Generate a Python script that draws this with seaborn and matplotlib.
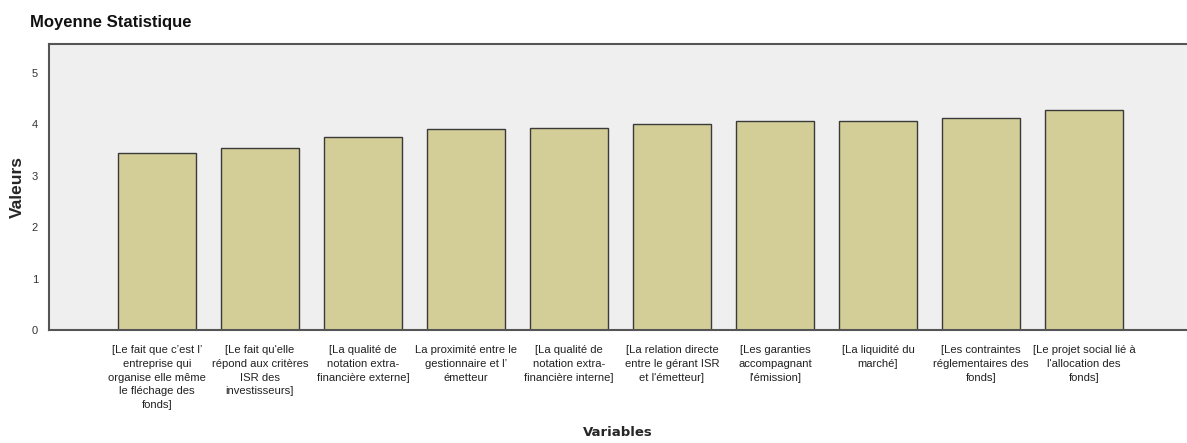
import matplotlib
matplotlib.use("Agg")
import matplotlib.pyplot as plt
import seaborn as sns
import pandas as pd

# data
variables = [
    "[Le fait que c’est l’\nentreprise qui\norganise elle même\nle fléchage des\nfonds]",
    "[Le fait qu'elle\nrépond aux critères\nISR des\ninvestisseurs]",
    "[La qualité de\nnotation extra-\nfinancière externe]",
    "La proximité entre le\ngestionnaire et l’\németteur",
    "[La qualité de\nnotation extra-\nfinancière interne]",
    "[La relation directe\nentre le gérant ISR\net l'émetteur]",
    "[Les garanties\naccompagnant\nl'émission]",
    "[La liquidité du\nmarché]",
    "[Les contraintes\nréglementaires des\nfonds]",
    "[Le projet social lié à\nl'allocation des\nfonds]",
]
moyennes = [3.44, 3.53, 3.75, 3.90, 3.93, 4.00, 4.06, 4.06, 4.12, 4.28]
y_ticks = [0, 1, 2, 3, 4, 5]

df = pd.DataFrame({"variable": variables, "valeur": moyennes})

sns.set_style("white")
plt.rcParams["font.family"] = ["Liberation Sans", "DejaVu Sans"]

fig = plt.figure(figsize=(11.87, 4.43), dpi=100)
ax = fig.add_axes([0.0415, 0.255, 0.9585, 0.6455])

sns.barplot(data=df, x="variable", y="valeur", color="#d3ce97",
            saturation=1, width=0.75, edgecolor="#3a3a3a", linewidth=1.0, ax=ax)

ax.set_facecolor("#efefef")
ax.set_xlim(-1.045, 10.0)
ax.set_ylim(0, 5.56)
ax.set_yticks(y_ticks)
ax.set_yticklabels([str(t) for t in y_ticks], fontsize=8, color="#333333")
ax.set_xticks(range(len(variables)))
ax.set_xticklabels(variables, fontsize=8.1, color="#222222", linespacing=1.45)
ax.tick_params(axis="both", direction="out", length=5, width=1, color="#555555", pad=3)
ax.tick_params(axis="x", length=6, pad=5)

for side in ["left", "top", "bottom"]:
    ax.spines[side].set_visible(True)
    ax.spines[side].set_color("#555555")
    ax.spines[side].set_linewidth(1.5)
ax.spines["right"].set_visible(False)

ax.set_ylabel("Valeurs", fontsize=12.5, fontweight="bold", labelpad=5)
ax.set_xlabel("Variables", fontsize=9.5, fontweight="bold",
              family=["DejaVu Sans"])
ax.xaxis.set_label_coords(0.5, -0.335)

fig.text(30 / 1187, 1 - 22 / 443, "Moyenne Statistique", fontsize=12,
         fontweight="bold", va="center", ha="left", color="#111111")

fig.savefig("out.png", dpi=100)
